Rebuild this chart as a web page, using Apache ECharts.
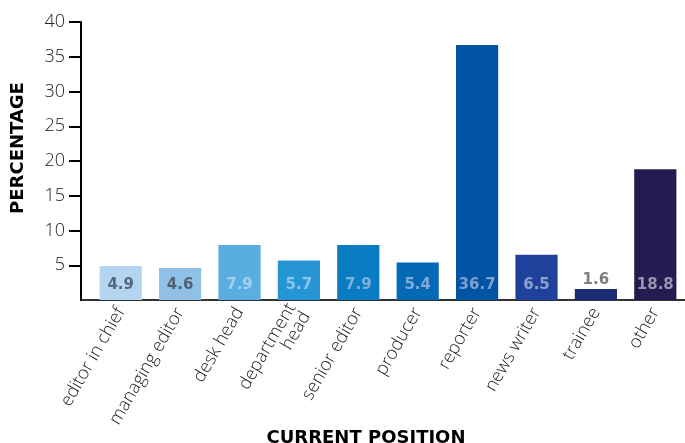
<!DOCTYPE html>
<html>
<head>
<meta charset="utf-8">
<script src="https://cdn.jsdelivr.net/npm/echarts@6/dist/echarts.min.js"></script>
<style>
  html, body { margin: 0; padding: 0; background: #fff; }
  #chart { width: 685px; height: 443px; }
</style>
</head>
<body>
<div id="chart"></div>
<script>
// Share of respondents by current position (%)
const categories = ['editor in chief', 'managing editor', 'desk head', 'department\nhead',
  'senior editor', 'producer', 'reporter', 'news writer', 'trainee', 'other'];
const values = [4.9, 4.6, 7.9, 5.7, 7.9, 5.4, 36.7, 6.5, 1.6, 18.8];
const barColors = ['#b3d5f1', '#8fc0e6', '#58ade1', '#2595d6', '#0a7cc3', '#0669b6',
  '#0054a3', '#1f419b', '#1b2a74', '#221c50'];
const labelColors = ['#56697c', '#4f6275', '#a6d0ee', '#8cc4ea', '#7cb3de', '#7eabd8',
  '#7c9fcd', '#8da0cf', '#7e7e7e', '#9893b0'];
const yTicks = [5, 10, 15, 20, 25, 30, 35, 40];

const chart = echarts.init(document.getElementById('chart'));
const light = '"Open Sans", Lato, sans-serif';
const heavy = '"DejaVu Sans", sans-serif';

chart.setOption({
  animation: false,
  title: {
    text: 'CURRENT POSITION',
    left: 361,
    top: 424,
    textAlign: 'center',
    textStyle: { fontFamily: heavy, fontWeight: 'bold', fontSize: 18, color: '#000' }
  },
  grid: { left: 91, right: 0, top: 22, bottom: 143 },
  xAxis: {
    type: 'category',
    data: categories,
    axisLine: { lineStyle: { color: '#333', width: 2 } },
    axisTick: { show: false },
    axisLabel: {
      rotate: 60,
      margin: 9,
      interval: 0,
      fontFamily: light,
      fontWeight: 300,
      fontSize: 18,
      color: '#222',
      align: 'right',
      lineHeight: 17
    }
  },
  yAxis: {
    type: 'value',
    min: 0,
    max: 40,
    interval: 5,
    offset: 10,
    name: 'PERCENTAGE',
    nameLocation: 'middle',
    nameGap: 54,
    nameTextStyle: {
      fontFamily: heavy, fontWeight: 'bold', fontSize: 18, color: '#000',
      padding: [0, 0, 0, 26]
    },
    axisLine: { show: true, lineStyle: { color: '#000', width: 2 } },
    axisTick: { show: true, length: 12, customValues: yTicks, lineStyle: { color: '#000', width: 2 } },
    axisLabel: {
      customValues: yTicks,
      margin: 16,
      fontFamily: light,
      fontWeight: 300,
      fontSize: 18,
      color: '#222'
    },
    splitLine: { show: false }
  },
  series: [{
    type: 'bar',
    barCategoryGap: '29%',
    data: values.map((v, i) => ({
      value: v,
      itemStyle: { color: barColors[i] },
      label: v < 3
        ? { color: labelColors[i], position: 'top', distance: 1 }
        : { color: labelColors[i], position: 'insideBottom', distance: 7 }
    })),
    label: {
      show: true,
      fontFamily: heavy,
      fontWeight: 'bold',
      fontSize: 15
    }
  }]
});

// Extend the baseline left to meet the offset value axis
const base = chart.convertToPixel({ gridIndex: 0 }, [0, 0]);
chart.setOption({
  graphic: [{
    type: 'line',
    shape: { x1: 80, y1: base[1], x2: 92, y2: base[1] },
    style: { stroke: '#333', lineWidth: 2 }
  }]
});
</script>
</body>
</html>
